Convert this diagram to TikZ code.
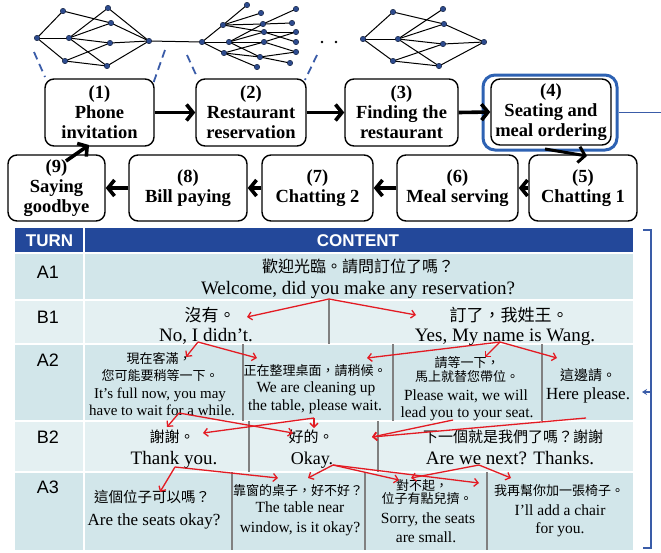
\documentclass[tikz,border=0pt]{standalone}
\usepackage{fontspec}
\setmainfont{Liberation Serif}
\newfontfamily\hsans{Liberation Sans}
\newfontfamily\cjk{Noto Sans CJK TC}
\usetikzlibrary{arrows.meta}
\definecolor{hdrblue}{HTML}{23489A}
\definecolor{rowa}{HTML}{D2E6EA}
\definecolor{rowb}{HTML}{E4F0F2}
\definecolor{dotblue}{HTML}{2D4B8E}
\definecolor{frameblue}{HTML}{2E62B3}
\definecolor{linkblue}{HTML}{3A5CA8}
\definecolor{redarr}{HTML}{E31B23}
\definecolor{divgray}{HTML}{808080}
\begin{document}
\begin{tikzpicture}[x=1pt,y=-1pt,
  stepbox/.style={draw, line width=1.4pt, rounded corners=9pt, fill=white, align=center, inner sep=0pt,
    font=\bfseries\fontsize{18.5}{20}\selectfont},
  flow/.style={line width=3.6pt, -{Straight Barb[length=6.5pt,width=16pt]}},
  tdot/.style={circle, fill=dotblue, draw=black!60!dotblue, line width=0.4pt, inner sep=0pt, minimum size=5.5pt},
  tedge/.style={line width=1pt},
  tdash/.style={draw=linkblue, line width=1.8pt, dash pattern=on 8pt off 5pt},
  zh/.style={font=\cjk\fontsize{#1}{#1}\selectfont, anchor=base, inner sep=0pt},
  en/.style={font=\fontsize{#1}{#1}\selectfont, anchor=base, inner sep=0pt},
  rarr/.style={draw=redarr, line width=1.3pt, -{Straight Barb[length=4pt,width=8pt]}},
  lbl/.style={font=\hsans\fontsize{18}{18}\selectfont},
  hdr/.style={font=\hsans\bfseries\fontsize{17}{17}\selectfont, text=white},
  divl/.style={draw=divgray, line width=2pt}
]
\useasboundingbox (0,0) rectangle (661,552);

% ---------- trees ----------
\foreach \n/\x/\y in {ta/37/38, tb/63/11, tc/69/38, td/65/61, te/108/8, tf/111/23, tg/110/43, th/107/66, ti/149/41,
  ur/202/42, up1/223/25, up2/229/42, up3/224/53, ua/247/5, ub/261/13, uc/296/9, ud/263/24, ue/292/23,
  uf/264/32, ug/296/32, uh/264/42, ui/296/42, uj/260/57, uk/296/52, ul/290/63, um/257/67,
  va/363/39, vb/393/12, vc/398/39, vd/393/61, ve/443/9, vf/444/24, vg/443/44, vh/439/66, vi/484/42}
  \coordinate (\n) at (\x,\y);
\foreach \a/\b in {ta/tb, ta/tc, ta/td, tb/tf, tc/te, tc/tf, tc/tg, tc/th, td/tg, td/th, te/ti, tf/ti, tg/ti, th/ti,
  ti/ur, ur/up1, ur/up2, ur/up3, up1/ua, up1/ub, up1/ud, up1/uf, up2/ud, up2/uf, up2/uh, up2/uj,
  up3/uj, up3/um, up3/uh, ud/uc, ud/ue, uf/ug, uf/ui, uh/ug, uh/uk, uj/uk, uj/ul,
  va/vb, va/vc, va/vd, vb/vf, vc/ve, vc/vf, vc/vg, vc/vh, vd/vg, vd/vh, vf/vi, vg/vi, vh/vi}
  \draw[tedge] (\a) -- (\b);
\foreach \n in {ta,tb,tc,td,te,tf,tg,th,ti,ur,up1,up2,up3,ua,ub,uc,ud,ue,uf,ug,ui,uh,uj,uk,ul,um,va,vb,vc,vd,ve,vf,vg,vh,vi}
  \node[tdot] (d\n) at (\n) {};
\node[circle, fill=black, inner sep=0pt, minimum size=2.6pt] (dots1) at (322,42) {};
\node[circle, fill=black, inner sep=0pt, minimum size=2.6pt] (dots2) at (336,42) {};

% dashed links
\coordinate (k1a) at (34,52);  \coordinate (k1b) at (45,77);
\coordinate (k2a) at (165,50); \coordinate (k2b) at (153,84);
\coordinate (k3a) at (187,55); \coordinate (k3b) at (197,77);
\coordinate (k4a) at (317,55); \coordinate (k4b) at (305,80);
\draw[tdash] (k1a) -- (k1b);
\draw[tdash] (k2a) -- (k2b);
\draw[tdash] (k3a) -- (k3b);
\draw[tdash] (k4a) -- (k4b);

% ---------- steps ----------
\node[stepbox, minimum width=109pt, minimum height=67pt] (b1) at (99.5,112.5) {(1)\\Phone\\invitation};
\node[stepbox, minimum width=110pt, minimum height=67pt] (b2) at (251,112.5) {(2)\\Restaurant\\reservation};
\node[stepbox, minimum width=113pt, minimum height=67pt] (b3) at (401.5,112.5) {(3)\\Finding the\\restaurant};
\node[stepbox, minimum width=120pt, minimum height=66pt] (b4) at (551,112) {(4)\\Seating and\\meal ordering};
\node[stepbox, minimum width=108pt, minimum height=66pt] (b5) at (583,188) {(5)\\Chatting 1};
\node[stepbox, minimum width=121pt, minimum height=66pt] (b6) at (457.5,188) {(6)\\Meal serving};
\node[stepbox, minimum width=111pt, minimum height=66pt] (b7) at (317.5,188) {(7)\\Chatting 2};
\node[stepbox, minimum width=118pt, minimum height=66pt] (b8) at (188,188) {(8)\\Bill paying};
\node[stepbox, minimum width=97pt, minimum height=66pt] (b9) at (56.5,188) {(9)\\Saying\\goodbye};

\node[draw=frameblue, line width=3pt, rounded corners=12pt, minimum width=134pt, minimum height=75pt, inner sep=0pt] (f4) at (550,112.5) {};
\coordinate (edgeR) at (661,112.5);
\draw[linkblue, line width=1.6pt] (f4.east) -- (edgeR);

\draw[flow] (b1.east) -- (b2.west);
\draw[flow] (b2.east) -- (b3.west);
\draw[flow] (b3.east) -- (b4.west);
\draw[flow] (b5.west) -- (b6.east);
\draw[flow] (b6.west) -- (b7.east);
\draw[flow] (b7.west) -- (b8.east);
\draw[flow] (b8.west) -- (b9.east);
\coordinate (a9s) at (66,161); \coordinate (a9e) at (89,145);
\draw[flow] (a9s) -- (a9e);
\coordinate (a4s) at (545,149); \coordinate (a4e) at (587,156);
\draw[flow, line width=3pt] (a4s) -- (a4e);

% ---------- table ----------
\fill[hdrblue] (15,228) rectangle (633,253);
\fill[rowa] (15,253) rectangle (633,300);
\fill[rowb] (15,300) rectangle (633,344);
\fill[rowa] (15,344) rectangle (633,421);
\fill[rowb] (15,421) rectangle (633,472);
\fill[rowa] (15,472) rectangle (633,550);
\foreach \yy in {253,300,344,421,472}
  \draw[white, line width=1.5pt] (15,\yy) -- (633,\yy);
\draw[white, line width=1.3pt] (84,228) -- (84,550);

\node[hdr] (hturn) at (49.5,241) {TURN};
\node[hdr] (hcont) at (358,241) {CONTENT};
\node[lbl] (lA1) at (48,272) {A1};
\node[lbl] (lB1) at (48,317) {B1};
\node[lbl] (lA2) at (48,360) {A2};
\node[lbl] (lB2) at (48,437) {B2};
\node[lbl] (lA3) at (48,487) {A3};

\draw[divl] (329,300) -- (329,344);
\foreach \xx in {243,393,542} \draw[divl] (\xx,344) -- (\xx,421);
\foreach \xx in {249,378} \draw[divl] (\xx,421) -- (\xx,472);
\foreach \xx in {232,365,487} \draw[divl] (\xx,472) -- (\xx,550);

% A1
\node[zh=16] (a1z) at (358,272) {歡迎光臨。請問訂位了嗎？};
\node[en=19] (a1e) at (358,294) {Welcome, did you make any reservation?};
% B1
\node[zh=17] (b1zl) at (210,321) {沒有。};
\node[en=19] (b1el) at (206,341) {No, I didn’t.};
\node[zh=17] (b1zr) at (509,321) {訂了，我姓王。};
\node[en=19] (b1er) at (505,341) {Yes, My name is Wang.};
% A2
\node[zh=13] (a2z1) at (159,363) {現在客滿，};
\node[zh=13] (a2z2) at (160,380) {您可能要稍等一下。};
\node[en=15] (a2e1) at (160,398) {It’s full now, you may};
\node[en=15] (a2e2) at (162,415) {have to wait for a while.};
\node[zh=13] (a2z3) at (315,375) {正在整理桌面，請稍候。};
\node[en=15.5] (a2e3) at (316,392) {We are cleaning up};
\node[en=15.5] (a2e4) at (315,410) {the table, please wait.};
\node[zh=13] (a2z4) at (467,367) {請等一下，};
\node[zh=13] (a2z5) at (467,381) {馬上就替您帶位。};
\node[en=15.5] (a2e5) at (466,400) {Please wait, we will};
\node[en=15.5] (a2e6) at (467,417) {lead you to your seat.};
\node[zh=14] (a2z6) at (588,380) {這邊請。};
\node[en=17] (a2e7) at (588,399) {Here please.};
% B2
\node[zh=15] (b2z1) at (172,442) {謝謝。};
\node[en=19] (b2e1) at (174,464) {Thank you.};
\node[zh=15] (b2z2) at (311,442) {好的。};
\node[en=18] (b2e2) at (312,464) {Okay.};
\node[zh=15] (b2z3) at (513,442) {下一個就是我們了嗎？謝謝};
\node[en=19] (b2e3) at (510,464) {Are we next? Thanks.};
% A3
\node[zh=14.5] (a3z1) at (152,502) {這個位子可以嗎？};
\node[en=17] (a3e1) at (154,525) {Are the seats okay?};
\node[zh=13] (a3z2) at (298,495) {靠窗的桌子，好不好？};
\node[en=15.5] (a3e2) at (300,512) {The table near};
\node[en=15.5] (a3e3) at (300,532) {window, is it okay?};
\node[zh=13] (a3z3) at (422,490) {對不起，};
\node[zh=13] (a3z4) at (427,503) {位子有點兒擠。};
\node[en=15.5] (a3e4) at (428,523) {Sorry, the seats};
\node[en=15.5] (a3e5) at (426,542) {are small.};
\node[zh=13] (a3z5) at (559,495) {我再幫你加一張椅子。};
\node[en=15.5] (a3e6) at (560,515) {I’ll add a chair};
\node[en=15.5] (a3e7) at (560,533) {for you.};

% ---------- red links ----------
\foreach \n/\x/\y in {o1/329/299, o2/198/342, o3/500/342, o4/179/413, o5/314/418, o6/453/420, o7/586/418,
  o8/175/467, o9/333/465, o10/479/465,
  q1/247/317, q2/416/315, q3/186/357, q4/257/358, q5/367/358, q6/485/357, q7/557/358,
  q8/167/427, q9/293/433, q10/203/433, q11/314/428, q12/372/437, q13/160/492, q14/278/478,
  q15/308/478, q16/399/480, q17/479/483, q18/411/478, q19/511/478}
  \coordinate (\n) at (\x,\y);
\foreach \a/\b in {o1/q1, o1/q2, o2/q3, o2/q4, o3/q5, o3/q6, o3/q7, o4/q8, o4/q9, o5/q10, o5/q11,
  o6/q12, o7/q12, o8/q13, o8/q14, o9/q15, o9/q16, o9/q17, o10/q18, o10/q19}
  \draw[rarr] (\a) -- (\b);

% ---------- bracket ----------
\coordinate (bt1) at (643,230); \coordinate (bt2) at (651,230);
\coordinate (bb2) at (651,548); \coordinate (bb1) at (643,548);
\draw[linkblue, line width=1.6pt] (bt1) -- (bt2) -- (bb2) -- (bb1);
\coordinate (ba1) at (651,392); \coordinate (ba2) at (642,392);
\draw[linkblue, line width=1.3pt, -{Stealth[length=5pt,width=6pt]}] (ba1) -- (ba2);
\end{tikzpicture}
\end{document}
